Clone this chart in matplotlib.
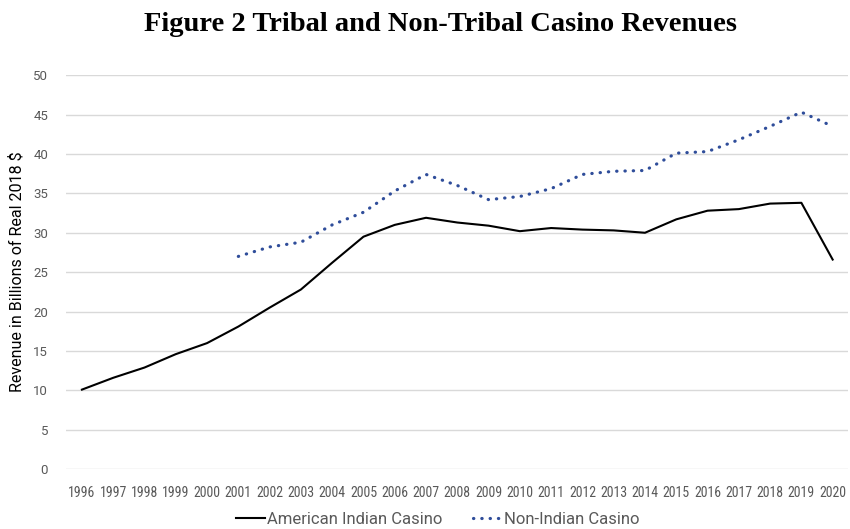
import matplotlib
matplotlib.use("Agg")
import matplotlib.pyplot as plt
from matplotlib import font_manager

years = [str(y) for y in range(1996, 2021)]

# American Indian casino revenue, billions of real 2018 $
tribal = [10.1, 11.6, 12.9, 14.6, 16.0, 18.1, 20.5, 22.8, 26.2, 29.5,
          31.0, 31.9, 31.3, 30.9, 30.2, 30.6, 30.4, 30.3, 30.0, 31.7,
          32.8, 33.0, 33.7, 33.8, 26.6]

# Non-Indian casino revenue, starts in 2001
non_years = years[5:]
non_tribal = [27.0, 28.2, 28.8, 31.0, 32.6, 35.3, 37.4, 36.0, 34.2, 34.6,
              35.6, 37.4, 37.8, 37.9, 40.1, 40.3, 41.8, 43.5, 45.3, 43.5]

yticks = list(range(0, 55, 5))

names = {f.name for f in font_manager.fontManager.ttflist}

def pick(cands):
    for c in cands:
        if c in names:
            return c
    return "DejaVu Sans"

narrow_font = pick(["Roboto Condensed", "Roboto"])
text_font = pick(["Roboto", "Open Sans"])
grey = "#595959"

fig = plt.figure(figsize=(8.5, 5.29), dpi=100)
ax = fig.add_axes([0.078, 0.113, 0.92, 0.745])

x_all = list(range(len(years)))
x_non = x_all[5:]

ax.plot(x_all, tribal, color="black", linewidth=1.5, label="American Indian Casino")
ax.plot(x_non, non_tribal, color="#2F4D9A", linewidth=2.3,
        linestyle=(0, (0.1, 2.5)), dash_capstyle="round",
        label="Non-Indian Casino")

ax.set_xlim(-0.5, len(years) - 0.5)
ax.set_ylim(0, 50)
ax.set_yticks(yticks)
ax.set_xticks(x_all)
ax.set_xticklabels(years)
ax.grid(axis="y", color="#D9D9D9", linewidth=1)
ax.set_axisbelow(True)
for s in ax.spines.values():
    s.set_visible(False)
ax.tick_params(length=0, colors=grey)
for lab in ax.get_xticklabels():
    lab.set_fontfamily(narrow_font)
    lab.set_fontsize(10)
for lab in ax.get_yticklabels():
    lab.set_fontfamily(text_font)
    lab.set_fontsize(9.5)
ax.tick_params(axis="x", pad=12)
ax.tick_params(axis="y", pad=13)

ax.set_ylabel("Revenue in Billions of Real 2018 $", fontsize=11.5, color="black",
              fontfamily=text_font, labelpad=6)

fig.suptitle("Figure 2 Tribal and Non-Tribal Casino Revenues", x=0.518, y=0.978,
             fontsize=20.5, fontweight="bold", fontfamily="Liberation Serif")

leg = fig.legend(loc="lower center", bbox_to_anchor=(0.515, -0.025), ncol=2,
                 frameon=False, handlelength=1.7, handletextpad=0.15,
                 columnspacing=1.8,
                 prop={"family": text_font, "size": 12})
for t in leg.get_texts():
    t.set_color(grey)

fig.savefig("out.png", dpi=100)
